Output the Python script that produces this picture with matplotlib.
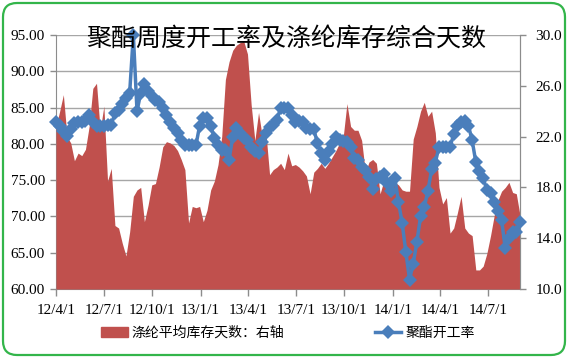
import matplotlib
matplotlib.use("Agg")
import matplotlib.pyplot as plt
import matplotlib.dates as mdates
from matplotlib.patches import FancyBboxPatch
from matplotlib.transforms import IdentityTransform
from matplotlib.ticker import FuncFormatter
import pandas as pd

plt.rcParams['font.family'] = ['Liberation Serif', 'Noto Sans CJK SC']

# weekly data, 2012-04-01 .. 2014-08-31
dates = pd.date_range("2012-04-01", periods=127, freq="7D")

# 聚酯开工率 (left axis, %)
rate = [
    83.0, 82.5, 81.8, 81.1, 82.0, 82.9, 83.0, 83.0, 83.2, 84.0,
    83.0, 82.5, 82.5, 82.5, 82.6, 82.6, 84.2, 84.6, 85.5, 86.3,
    87.0, 95.0, 84.5, 87.0, 88.2, 87.3, 86.6, 86.0, 85.7, 85.0,
    84.0, 83.0, 82.2, 81.5, 80.5, 79.8, 79.8, 79.8, 79.8, 82.5,
    83.5, 83.5, 82.5, 80.8, 79.8, 79.2, 79.2, 77.8, 81.0, 82.2,
    81.5, 80.8, 80.5, 79.6, 79.0, 78.7, 80.3, 81.5, 82.3, 82.6,
    83.3, 85.0, 84.9, 84.9, 84.0, 83.0, 83.2, 83.0, 82.2, 82.0,
    82.0, 80.1, 78.7, 77.8, 79.0, 80.0, 81.0, 80.6, 80.4, 80.2,
    79.5, 78.0, 77.8, 76.8, 76.4, 75.5, 73.8, 75.2, 75.5, 75.8,
    74.6, 73.5, 75.3, 72.0, 69.1, 65.1, 61.3, 63.5, 66.5, 70.0,
    71.3, 73.5, 76.5, 77.4, 79.6, 79.6, 79.6, 79.6, 81.3, 82.4,
    83.0, 83.1, 82.5, 80.5, 77.5, 76.2, 75.3, 73.6, 73.2, 72.0,
    70.8, 69.5, 65.6, 67.0, 67.9, 67.8, 69.3,
]

# 涤纶平均库存天数 (right axis, days)
stock = [
    22.8, 24.0, 25.3, 22.0, 21.5, 20.1, 20.7, 20.5, 21.0, 22.8,
    25.8, 26.2, 22.5, 24.4, 18.5, 19.5, 15.0, 14.8, 13.6, 12.6,
    14.5, 17.3, 17.8, 18.0, 15.3, 16.6, 18.2, 18.3, 19.6, 21.2,
    21.6, 21.5, 21.3, 20.9, 20.2, 19.4, 15.2, 16.5, 16.4, 16.5,
    15.3, 16.2, 17.8, 18.5, 19.8, 22.0, 26.5, 27.9, 28.8, 29.2,
    29.4, 29.5, 28.5, 24.5, 21.7, 23.9, 22.0, 22.3, 19.0, 19.4,
    19.6, 19.9, 19.4, 20.7, 19.7, 19.8, 19.6, 19.3, 18.9, 17.5,
    19.2, 19.5, 19.9, 19.5, 19.9, 20.4, 20.9, 21.5, 22.0, 24.6,
    22.8, 22.5, 22.5, 21.7, 19.2, 20.0, 20.2, 19.9, 17.5, 18.5,
    18.4, 18.3, 18.4, 18.2, 17.8, 17.7, 17.7, 21.8, 22.8, 24.0,
    24.7, 23.6, 24.0, 22.3, 18.0, 16.7, 17.2, 14.4, 14.8, 16.0,
    17.3, 14.8, 14.4, 14.2, 11.5, 11.5, 11.8, 12.8, 14.2, 15.8,
    17.0, 17.7, 18.0, 18.4, 17.6, 17.5, 15.8,
]

left_ticks = [60, 65, 70, 75, 80, 85, 90, 95]
right_ticks = [10, 14, 18, 22, 26, 30]

red = "#C0504D"
blue = "#4A7EBB"
gray = "#8C8C8C"

fig = plt.figure(figsize=(5.7, 3.59), dpi=100)
ax = fig.add_axes([56 / 570, 1 - 289 / 359, 464 / 570, 254 / 359])

# left axis + grid
ax.set_ylim(60, 95)
ax.set_yticks(left_ticks)
ax.yaxis.set_major_formatter(FuncFormatter(lambda v, p: f"{v:.2f}"))
ax.grid(axis="y", color="#A6A6A6", linewidth=1.0)
ax.set_xlim(dates[0], dates[-1])
ax.xaxis.set_major_locator(mdates.MonthLocator(bymonth=[1, 4, 7, 10]))
ax.xaxis.set_major_formatter(FuncFormatter(
    lambda v, p: "{}/{}/{}".format(mdates.num2date(v).year % 100,
                                    mdates.num2date(v).month,
                                    mdates.num2date(v).day)))
ax.tick_params(axis="y", length=4, width=1, color=gray, pad=4, labelsize=11)
ax.tick_params(axis="x", length=5, width=1, color=gray, pad=6, labelsize=11)
for s in ["left", "bottom", "right"]:
    ax.spines[s].set_color(gray)
ax.spines["top"].set_visible(False)

# right axis: stock days as area
ax2 = ax.twinx()
ax2.fill_between(dates, stock, 10, color=red, linewidth=0)
ax2.set_ylim(10, 30)
ax2.set_yticks(right_ticks)
ax2.yaxis.set_major_formatter(FuncFormatter(lambda v, p: f"{v:.1f}"))
ax2.tick_params(axis="y", length=4, width=1, color=gray, pad=7, labelsize=11)
ax2.spines["right"].set_color(gray)
ax2.spines["top"].set_visible(False)
ax2.spines["left"].set_visible(False)
ax2.spines["bottom"].set_visible(False)

# operating rate line on top (left scale)
ax3 = ax.twinx()
ax3.set_ylim(60, 95)
ax3.set_xlim(dates[0], dates[-1])
ax3.plot(dates, rate, color=blue, linewidth=2.5, marker="D", markersize=7.5,
         markeredgewidth=0, clip_on=False)
ax3.set_axis_off()

fig.text(286 / 570, 1 - 39 / 359, "聚酯周度开工率及涤纶库存综合天数",
         family=["Noto Sans CJK SC", "DejaVu Sans"], fontsize=18,
         ha="center", va="center")

h1 = plt.Rectangle((0, 0), 1, 1, color=red)
h2, = ax3.plot([], [], color=blue, linewidth=2.5, marker="D", markersize=7.5,
               markeredgewidth=0)
fig.legend([h1, h2], ["涤纶平均库存天数：右轴", "聚酯开工率"], ncol=2,
           loc="center", bbox_to_anchor=(288 / 570, 1 - 333 / 359),
           frameon=False, numpoints=1, handlelength=1.9, handleheight=0.7,
           handletextpad=0.3, columnspacing=6.5,
           prop={"family": ["Noto Sans CJK SC", "DejaVu Sans"], "size": 10})

# green rounded border
border = FancyBboxPatch((3, 4), 562, 352, boxstyle="round,pad=0,rounding_size=14",
                        transform=IdentityTransform(), facecolor="none",
                        edgecolor="#33B54A", linewidth=1.6)
fig.patches.append(border)

fig.savefig("out.png", dpi=100)
